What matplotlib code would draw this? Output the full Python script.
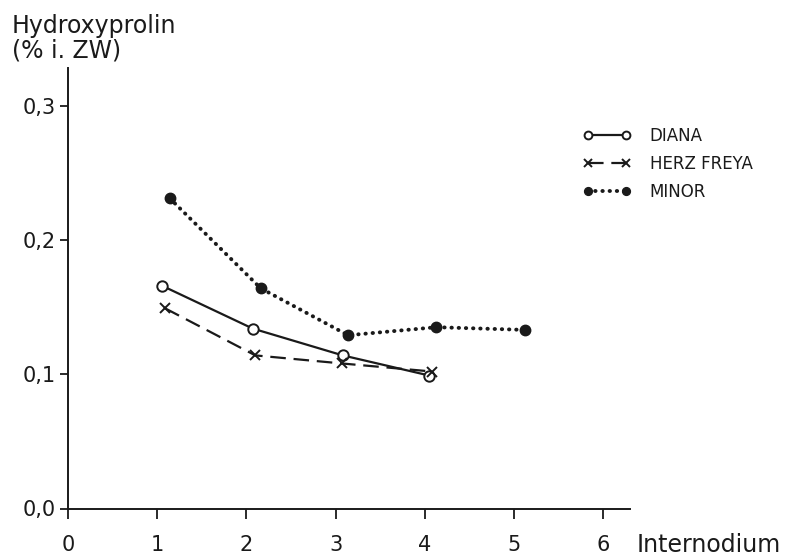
import matplotlib as mpl
import matplotlib.pyplot as plt

mpl.use("Agg")
plt.rcParams["font.family"] = ["DejaVu Sans"]

# Values (x = internode position as drawn)
diana_x = [1.05, 2.07, 3.08, 4.05]
diana_y = [0.166, 0.134, 0.114, 0.099]
herz_x = [1.09, 2.10, 3.07, 4.08]
herz_y = [0.149, 0.114, 0.108, 0.102]
minor_x = [1.14, 2.16, 3.14, 4.13, 5.12]
minor_y = [0.231, 0.164, 0.129, 0.135, 0.133]

x_ticks = [0, 1, 2, 3, 4, 5, 6]
y_ticks = [0.0, 0.1, 0.2, 0.3]
y_tick_labels = ["0,0", "0,1", "0,2", "0,3"]

INK = "#1a1a1a"

fig = plt.figure(figsize=(7.92, 5.57), dpi=100)
ax = fig.add_axes([68 / 792, 1 - 508.5 / 557, (630 - 68) / 792, (508.5 - 68) / 557])

ax.plot(diana_x, diana_y, color=INK, lw=1.6, marker="o", ms=7.5,
        mfc="white", mec=INK, mew=1.4, label="DIANA", zorder=3)
ax.plot(herz_x, herz_y, color=INK, lw=1.6, ls=(0, (7, 3.5)), marker="x", ms=7,
        mew=1.4, label="HERZ FREYA", zorder=3)
ax.plot(minor_x, minor_y, color=INK, lw=2.8, ls=(0, (0.1, 1.75)),
        dash_capstyle="round", marker="o", ms=7.5, mfc=INK, mec=INK,
        label="MINOR", zorder=3)

ax.set_xlim(0, 6.30)
ax.set_ylim(0, 0.328)
ax.set_xticks(x_ticks)
ax.set_xticklabels([str(t) for t in x_ticks])
ax.set_yticks(y_ticks)
ax.set_yticklabels(y_tick_labels)

for side in ("top", "right"):
    ax.spines[side].set_visible(False)
for side in ("left", "bottom"):
    ax.spines[side].set_linewidth(1.4)
    ax.spines[side].set_color(INK)

ax.tick_params(axis="x", direction="out", length=7, width=1.3, pad=12,
               labelsize=15, colors=INK)
ax.tick_params(axis="y", direction="out", length=6, width=1.3, pad=3,
               labelsize=15, colors=INK)

leg = ax.legend(loc="center left", bbox_to_anchor=(583 / 792, 1 - 164 / 557),
                bbox_transform=fig.transFigure, frameon=False, fontsize=12,
                numpoints=2, markerscale=0.75, handlelength=2.9,
                handletextpad=1.1, labelspacing=0.62, borderpad=0,
                borderaxespad=0)
for txt in leg.get_texts():
    txt.set_color(INK)

fig.text(12 / 792, 1 - 14 / 557, "Hydroxyprolin\n(% i. ZW)", ha="left", va="top",
         fontsize=17, color=INK, linespacing=1.05)
fig.text(637 / 792, 1 - 545 / 557, "Internodium", ha="left", va="center",
         fontsize=17, color=INK)

fig.savefig("out.png", dpi=100, facecolor="white")
